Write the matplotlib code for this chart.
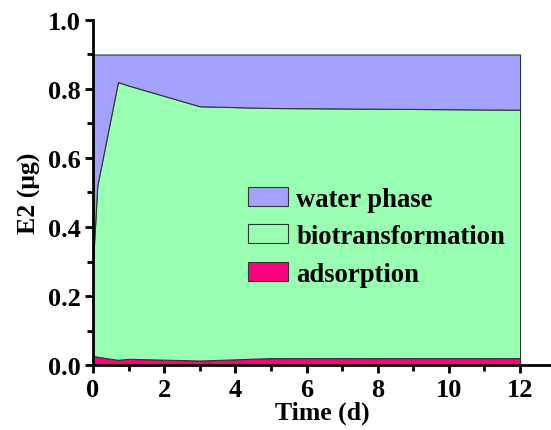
import matplotlib
matplotlib.use("Agg")
import matplotlib.pyplot as plt
from matplotlib.ticker import MultipleLocator

time_d = [0, 0.12, 0.7, 1, 3, 5, 12]
adsorption = [0.027, 0.024, 0.015, 0.018, 0.013, 0.020, 0.020]
bio_top = [0.30, 0.52, 0.82, 0.81, 0.75, 0.745, 0.74]
total = [0.90, 0.90, 0.90, 0.90, 0.90, 0.90, 0.90]
biotransformation = [b - a for b, a in zip(bio_top, adsorption)]
water_phase = [t - b for t, b in zip(total, bio_top)]

labels = ["adsorption", "biotransformation", "water phase"]
colors = ["#FF0080", "#99FFB3", "#A3A3FF"]

plt.rcParams['font.family'] = ['Liberation Serif', 'DejaVu Serif']
plt.rcParams['font.weight'] = 'bold'

fig = plt.figure(figsize=(5.51, 4.31), dpi=100)
ax = fig.add_axes([0.1688, 0.1508, 0.8312, 0.8005])

polys = ax.stackplot(time_d, adsorption, biotransformation, water_phase,
                     colors=colors, labels=labels, edgecolor="#333333", linewidth=0.8)

ax.set_xlim(0, 12.87)
ax.set_ylim(0, 1.0)
ax.xaxis.set_major_locator(MultipleLocator(2))
ax.xaxis.set_minor_locator(MultipleLocator(1))
ax.yaxis.set_major_locator(MultipleLocator(0.2))
ax.yaxis.set_minor_locator(MultipleLocator(0.1))
ax.yaxis.set_major_formatter(plt.FormatStrFormatter('%.1f'))

for s in ['top', 'right']:
    ax.spines[s].set_visible(False)
for s in ['left', 'bottom']:
    ax.spines[s].set_linewidth(2.0)
ax.tick_params(which='major', direction='out', length=6, width=2, labelsize=19, pad=3)
ax.tick_params(which='minor', direction='out', length=4, width=2)
for lab in ax.get_xticklabels() + ax.get_yticklabels():
    lab.set_fontweight('bold')

ax.set_xlabel("Time (d)", fontsize=18.5, fontweight='bold', labelpad=0)
ax.set_ylabel("E2 (μg)", fontsize=18.5, fontweight='bold', labelpad=5)

handles, labs = ax.get_legend_handles_labels()
leg = ax.legend(handles[::-1], labs[::-1], loc='center left', bbox_to_anchor=(0.338, 0.372),
                frameon=False, prop={'weight': 'bold', 'size': 19.2},
                handlelength=1.52, handleheight=0.72, handletextpad=0.3,
                labelspacing=0.47, borderpad=0, borderaxespad=0)

fig.savefig("out.png", dpi=100)
